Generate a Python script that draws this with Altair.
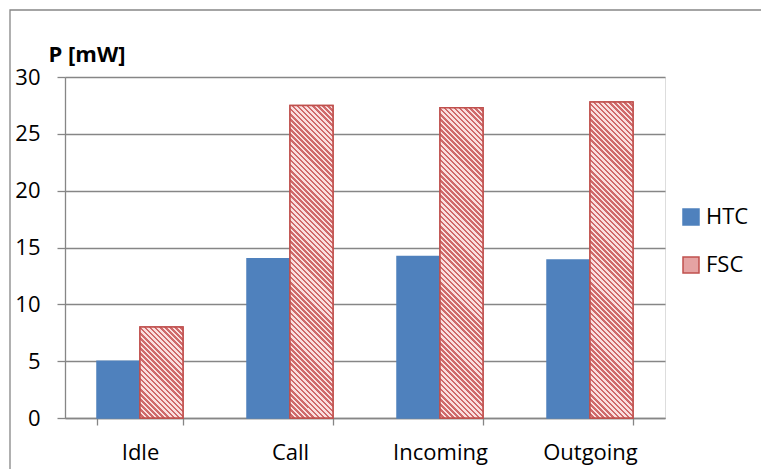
import math
import altair as alt
import pandas as pd

categories = ["Idle", "Call", "Incoming", "Outgoing"]
series = ["HTC", "FSC"]
htc_values = [5.0, 14.0, 14.2, 13.9]
fsc_values = [8.0, 27.5, 27.3, 27.8]

rows = []
for c, v in zip(categories, htc_values):
    rows.append({"state": c, "device": "HTC", "P": v})
for c, v in zip(categories, fsc_values):
    rows.append({"state": c, "device": "FSC", "P": v})
df = pd.DataFrame(rows)

W, H = 600, 341
FONT = "Open Sans"
FS = 22
GRID = "#868686"
BLUE = "#4F81BD"
RED = "#C0504D"
LIGHT = "#FADFDF"
DARK = "#CF6A6B"

x_enc = alt.X("state:N", sort=categories, title=None,
              scale=alt.Scale(paddingInner=0.4267, paddingOuter=0.2133),
              axis=alt.Axis(labelFont=FONT, labelFontSize=FS, labelColor="#000000",
                            labelAngle=0, tickBand="extent", tickSize=7,
                            tickColor=GRID, tickWidth=1.3, domainColor=GRID,
                            domainWidth=1.3, labelPadding=17))
xo_enc = alt.XOffset("device:N", scale=alt.Scale(domain=series, paddingInner=0, paddingOuter=0))
y_enc = alt.Y("P:Q", scale=alt.Scale(domain=[0, 30]),
              axis=alt.Axis(values=[0, 5, 10, 15, 20, 25, 30], title="P [mW]",
                            titleAngle=0, titleAlign="left", titleBaseline="alphabetic",
                            titleX=-17, titleY=-16, titleFont=FONT, titleFontSize=FS,
                            titleFontWeight="bold", titleColor="#000000",
                            labelFont=FONT, labelFontSize=FS, labelColor="#000000",
                            labelPadding=17, tickSize=8, tickColor=GRID, tickWidth=1.3,
                            gridColor=GRID, gridWidth=1.3, gridOpacity=1,
                            domainColor=GRID, domainWidth=1.3))

border = alt.Chart(pd.DataFrame({"a": [0]})).mark_rect(
    fill="transparent", stroke=GRID, strokeWidth=1.3
).encode(x=alt.value(-55), x2=alt.value(710), y=alt.value(-67), y2=alt.value(405))

bars = alt.Chart(df).mark_bar(strokeWidth=1.5).encode(
    x=x_enc, xOffset=xo_enc, y=y_enc,
    color=alt.Color("device:N", sort=series,
                    scale=alt.Scale(domain=series, range=[BLUE, "#E5A3A3"]),
                    legend=alt.Legend(title=None, orient="none", legendX=615, legendY=129,
                                      symbolType="square", symbolSize=256,
                                      symbolStrokeWidth=1.5, symbolOpacity=1,
                                      labelFont=FONT, labelFontSize=FS,
                                      labelColor="#000000", labelOffset=4, rowPadding=26)),
    stroke=alt.Stroke("device:N", sort=series,
                      scale=alt.Scale(domain=series, range=[BLUE, RED]), legend=None),
)

# diagonal hatching for the FSC bars (fill gradient per bar, derived from bar size)
bar_w = W / 4 * (1 - 0.4267) / 2
period = 3.6
dark_frac = 0.5
hatch_layers = []
for c, v in zip(categories, fsc_values):
    h = v * H / 30
    r = bar_w / h
    s = (r + 1) / (r * r + 1)
    L = (bar_w + h) / math.sqrt(2)
    n = L / period
    stops = []
    k = 0
    while k / n < 1:
        t0 = k / n
        tm = min((k + 1 - dark_frac) / n, 1)
        t1 = min((k + 1) / n, 1)
        stops += [alt.GradientStop(color=LIGHT, offset=t0),
                  alt.GradientStop(color=LIGHT, offset=tm),
                  alt.GradientStop(color=DARK, offset=tm),
                  alt.GradientStop(color=DARK, offset=t1)]
        k += 1
    grad = alt.LinearGradient(gradient="linear", stops=stops,
                              x1=0, y1=1, x2=s * r, y2=1 - s)
    layer = alt.Chart(df).transform_filter(
        (alt.datum.device == "FSC") & (alt.datum.state == c)
    ).mark_bar(fill=grad, stroke=RED, strokeWidth=1.5).encode(
        x=alt.X("state:N", sort=categories), xOffset=alt.XOffset("device:N"),
        y=alt.Y("P:Q"))
    hatch_layers.append(layer)

chart = alt.layer(border, bars, *hatch_layers).properties(
    width=W, height=H,
    autosize=alt.AutoSizeParams(type="none"),
    padding={"left": 65, "top": 77, "right": 96, "bottom": 51},
).configure_view(stroke=None).configure(background="white")

chart.save("out.html", embed_options={"renderer": "svg", "actions": False})
